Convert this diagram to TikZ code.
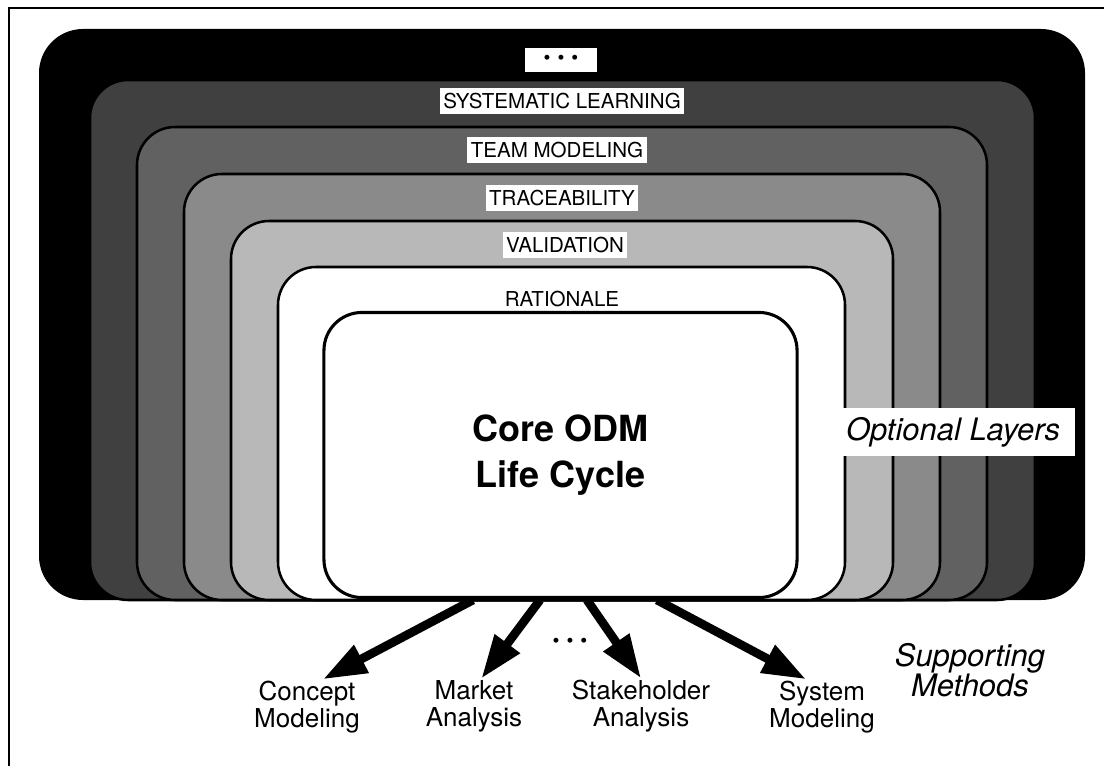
\documentclass[tikz,border=0pt]{standalone}
\usepackage{fontspec}
\setmainfont{TeX Gyre Heros}
\usetikzlibrary{arrows.meta}

\begin{document}
\begin{tikzpicture}[x=0.025cm, y=-0.025cm,
	layer/.style={draw=black, line width=1.8pt, rounded corners=0.95cm},
	tag/.style={fill=white, inner xsep=2.5pt, inner ysep=3.5pt, font=\fontsize{14.6}{16}\selectfont},
	method/.style={align=center, inner sep=1pt, font=\fontsize{18.5}{19.2}\selectfont},
	feed/.style={line width=6.2pt, -{Triangle[length=31pt 0 0,width=21pt 0 0]}}]
	\useasboundingbox (0,0) rectangle (1104,766);
	\draw[line width=1.6pt] (1104,8) -- (9,8) -- (9,766);
	\fill[black, rounded corners=1.1cm] (39,600) rectangle (1085,29);
	\foreach \l/\r/\t/\tone in {90/1035/80/black!75, 137/987/127/black!62, 184/940/174/black!46, 231/893/221/black!28, 278/845/267/white}
		\draw[layer, fill=\tone] (\l,600) rectangle (\r,\t);
	\node[layer, fill=white, line width=2.2pt, minimum width=11.825cm, minimum height=7.125cm, align=center, font=\bfseries\fontsize{25.6}{32.7}\selectfont] (core) at (560.5,455) {Core ODM\\Life Cycle};

	\node[tag, minimum width=1.775cm, minimum height=0.6cm, font=\fontsize{14}{14}\selectfont] (more) at (561,60) {\textbullet\hspace{5pt}\textbullet\hspace{5pt}\textbullet};
	\node[tag] (learning) at (562,101) {SYSTEMATIC LEARNING};
	\node[tag] (team) at (557,150) {TEAM MODELING};
	\node[tag] (trace) at (562,198) {TRACEABILITY};
	\node[tag] (valid) at (565,245) {VALIDATION};
	\node[tag, fill=none] (rationale) at (562,299) {RATIONALE};
	\node[fill=white, minimum width=6.075cm, minimum height=1.2cm, font=\itshape\fontsize{22}{24}\selectfont] (optional) at (953,432) {Optional Layers};

	\node[method] (concept) at (307,707) {Concept\\Modeling};
	\node[method] (market) at (474,706) {Market\\Analysis};
	\node[method] (stake) at (641,706) {Stakeholder\\Analysis};
	\node[method] (system) at (822,707) {System\\Modeling};
	\node[method, font=\itshape\fontsize{22}{21}\selectfont] (support) at (970,670) {Supporting\\Methods};
	\node[font=\fontsize{14}{14}\selectfont] (etc) at (570,643) {\textbullet\hspace{5pt}\textbullet\hspace{5pt}\textbullet};

	\coordinate (from1) at (473,600);
	\coordinate (from2) at (540,600);
	\coordinate (from3) at (587,600);
	\coordinate (from4) at (657,600);
	\draw[feed] (from1) -- (concept.60);
	\draw[feed] (from2) -- (market.75);
	\draw[feed] (from3) -- (stake.north);
	\draw[feed] (from4) -- (system.120);
\end{tikzpicture}
\end{document}
